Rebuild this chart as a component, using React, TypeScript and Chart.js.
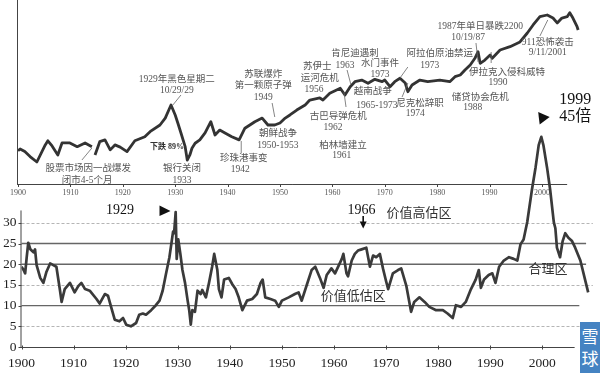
import React, { useEffect, useRef } from "react";
import { Chart, registerables } from "chart.js";
Chart.register(...registerables);

// ---------- data ----------
const decadeTicks = [1900, 1910, 1920, 1930, 1940, 1950, 1960, 1970, 1980, 1990, 2000];
const peTicks = [0, 5, 10, 15, 20, 25, 30];

// Stock index (log scale)
const indexYears = [
  1900.0, 1900.4, 1901.3, 1902.3, 1903.6, 1905.2, 1905.7, 1906.5, 1907.6, 1908.4,
  1909.9, 1911.3, 1912.8, 1914.1, 1914.3, 1914.7, 1915.6, 1916.6, 1917.6, 1918.5,
  1919.5, 1920.8, 1922.3, 1924.2, 1925.2, 1927.1, 1928.1, 1929.2, 1930.0, 1930.5,
  1931.1, 1931.9, 1932.3, 1932.8, 1933.2, 1933.8, 1934.7, 1935.7, 1936.8, 1937.6,
  1938.5, 1939.5, 1940.8, 1942.2, 1943.3, 1945.2, 1946.6, 1947.7, 1949.0, 1950.0,
  1951.0, 1951.9, 1953.2, 1954.8, 1955.7, 1957.6, 1958.2, 1959.5, 1961.5, 1962.4,
  1963.4, 1964.3, 1965.6, 1966.8, 1968.1, 1969.5, 1970.0, 1971.0, 1971.9, 1972.9,
  1973.9, 1974.4, 1975.2, 1976.7, 1978.2, 1980.5, 1982.4, 1983.4, 1984.4, 1985.3,
  1986.3, 1987.2, 1987.8, 1988.2, 1989.1, 1990.1, 1990.5, 1992.0, 1993.9, 1995.8,
  1997.2, 1998.3, 1999.6, 2001.0, 2002.1, 2002.9, 2003.8, 2004.8, 2005.3, 2005.9,
  2006.7, 2006.9,
];
const indexValues = [
  59, 63, 57, 47, 38, 74, 87, 71, 50, 80,
  80, 69, 80, 69, null, 50, 84, 90, 61, 74,
  68, 57, 87, 102, 124, 161, 211, 352, 238, 174,
  118, 69, 41, 50, 65, 79, 90, 118, 183, 109,
  132, 118, 102, 90, 142, 183, 211, 161, 161, 174,
  211, 238, 289, 352, 427, 462, 427, 555, 674, 519,
  718, 873, 931, 820, 958, 873, 931, 718, 873, 996,
  829, 590, 767, 931, 873, 931, 873, 1060, 1132, 1377,
  1675, 2174, 2812, 1790, 2032, 2473, 2174, 3006, 3420, 4110,
  5834, 7980, 11020, 11780, 10470, 8630, 10470, 11020, 12880, 10470,
  7460, 6560,
];

// Price / earnings ratio
const peYears = [
  1900.0, 1900.4, 1900.7, 1901.0, 1901.3, 1901.7, 1902.3, 1902.6, 1902.9, 1903.6,
  1904.2, 1904.8, 1905.5, 1906.1, 1906.7, 1907.4, 1907.7, 1908.3, 1909.3, 1910.2,
  1910.9, 1911.5, 1912.2, 1913.1, 1914.4, 1915.0, 1916.0, 1916.6, 1917.2, 1917.9,
  1918.8, 1919.5, 1920.1, 1921.0, 1922.0, 1922.6, 1923.3, 1923.9, 1924.9, 1925.8,
  1926.5, 1927.1, 1927.7, 1928.4, 1928.8, 1929.1, 1929.3, 1929.6, 1929.8, 1930.1,
  1930.5, 1930.9, 1931.4, 1931.9, 1932.2, 1932.5, 1932.8, 1933.3, 1933.8, 1934.4,
  1934.7, 1935.4, 1936.0, 1936.6, 1937.0, 1937.6, 1937.9, 1938.4, 1938.9, 1939.8,
  1940.5, 1941.1, 1941.7, 1942.4, 1943.3, 1944.3, 1945.2, 1945.9, 1946.3, 1946.8,
  1947.8, 1948.7, 1949.4, 1950.0, 1951.3, 1952.5, 1953.2, 1953.8, 1954.8, 1955.7,
  1956.4, 1957.3, 1958.0, 1958.6, 1959.5, 1960.2, 1961.5, 1961.8, 1962.4, 1962.7,
  1963.4, 1964.0, 1964.6, 1965.3, 1966.2, 1966.9, 1967.5, 1968.1, 1968.8, 1969.4,
  1970.0, 1970.4, 1971.3, 1972.3, 1972.9, 1973.9, 1974.8, 1975.4, 1976.4, 1977.4,
  1978.3, 1979.6, 1980.9, 1981.8, 1982.8, 1983.4, 1984.4, 1985.3, 1986.3, 1987.2,
  1987.8, 1988.2, 1988.8, 1989.7, 1990.4, 1991.0, 1991.7, 1992.6, 1993.6, 1994.5,
  1995.2, 1995.8, 1996.4, 1997.1, 1998.0, 1998.7, 1999.3, 1999.8, 2000.2, 2000.9,
  2001.5, 2002.2, 2002.5, 2002.8, 2003.4, 2003.9, 2004.4, 2005.0, 2005.7, 2006.3,
  2007.3, 2008.2, 2008.8,
];
const peValues = [
  19.4, 18.6, 17.8, 21.7, 25.2, 23.6, 22.9, 23.6, 19.8, 16.7,
  15.5, 18.2, 20.2, 19.8, 19.4, 13.6, 10.9, 14.0, 15.5, 13.2,
  14.7, 15.5, 14.0, 13.6, 11.6, 10.5, 12.8, 12.4, 9.7, 6.6,
  6.2, 7.0, 5.4, 5.0, 5.8, 7.8, 8.1, 7.8, 8.9, 10.1,
  11.2, 13.6, 17.4, 21.7, 25.2, 27.9, 27.5, 32.6, 21.3, 26.0,
  22.5, 18.6, 15.5, 11.2, 8.9, 5.4, 8.9, 8.5, 13.6, 12.8,
  13.8, 12.0, 15.5, 19.4, 22.5, 18.6, 14.0, 12.0, 16.3, 16.7,
  15.1, 14.0, 12.0, 8.9, 11.2, 11.6, 12.8, 15.5, 16.3, 12.0,
  11.6, 11.2, 9.7, 11.2, 12.0, 12.8, 13.2, 11.2, 15.1, 18.6,
  19.4, 16.7, 14.3, 17.4, 19.0, 17.8, 21.3, 22.5, 17.8, 17.1,
  20.9, 22.5, 23.3, 23.6, 24.0, 19.4, 22.1, 21.7, 22.5, 19.0,
  15.9, 14.0, 17.8, 18.6, 19.0, 14.7, 8.5, 10.9, 12.0, 10.9,
  9.7, 8.9, 8.9, 8.1, 7.0, 10.1, 9.7, 10.9, 14.0, 16.3,
  18.6, 14.3, 16.3, 17.4, 17.8, 15.5, 19.4, 20.9, 21.7, 21.3,
  20.9, 24.8, 26.0, 30.2, 38.0, 43.4, 48.8, 50.8, 48.8, 43.4,
  38.0, 30.2, 28.7, 24.0, 21.7, 25.6, 27.5, 26.4, 25.6, 24.0,
  20.9, 16.3, 13.2,
];

// ---------- annotation layout ----------
const SERIF = '"Liberation Serif", "DejaVu Serif", serif';
const MIX = '"Liberation Serif", "Noto Sans CJK SC", serif';

type Note = { t: string; yr: number; y: number; size?: number; bold?: boolean; align?: CanvasTextAlign; color?: string };
const topNotes: Note[] = [
  { t: "1929年黑色星期二", yr: 1930.3, y: 79 },
  { t: "10/29/29", yr: 1930.3, y: 90 },
  { t: "苏联爆炸", yr: 1946.8, y: 74 },
  { t: "第一颗原子弹", yr: 1946.8, y: 85 },
  { t: "1949", yr: 1946.8, y: 97 },
  { t: "朝鲜战争", yr: 1949.6, y: 133 },
  { t: "1950-1953", yr: 1949.6, y: 145 },
  { t: "珍珠港事变", yr: 1943.1, y: 158 },
  { t: "1942", yr: 1942.4, y: 169 },
  { t: "银行关闭", yr: 1931.3, y: 168 },
  { t: "1933", yr: 1931.3, y: 180 },
  { t: "下跌 89%", yr: 1925.2, y: 147, size: 8, bold: true, align: "left", color: "#333" },
  { t: "股票市场因一战爆发", yr: 1913.4, y: 168 },
  { t: "闭市4-5个月", yr: 1913.2, y: 180 },
  { t: "苏伊士", yr: 1957.1, y: 66 },
  { t: "运河危机", yr: 1957.6, y: 78 },
  { t: "1956", yr: 1956.5, y: 89 },
  { t: "肯尼迪遇刺", yr: 1964.3, y: 53 },
  { t: "1963", yr: 1962.4, y: 65 },
  { t: "水门事件", yr: 1969.1, y: 63 },
  { t: "1973", yr: 1969.1, y: 74 },
  { t: "越南战争", yr: 1967.7, y: 91 },
  { t: "1965-1973", yr: 1968.5, y: 105 },
  { t: "古巴导弹危机", yr: 1961.1, y: 116 },
  { t: "1962", yr: 1960.1, y: 127 },
  { t: "柏林墙建立", yr: 1962.0, y: 145 },
  { t: "1961", yr: 1961.8, y: 155 },
  { t: "阿拉伯原油禁运", yr: 1980.5, y: 53 },
  { t: "1973", yr: 1978.6, y: 65 },
  { t: "尼克松辞职", yr: 1976.7, y: 103 },
  { t: "1974", yr: 1975.8, y: 113 },
  { t: "储贷协会危机", yr: 1988.2, y: 97 },
  { t: "1988", yr: 1986.8, y: 107 },
  { t: "1987年单日暴跌2200", yr: 1988.2, y: 26 },
  { t: "10/19/87", yr: 1985.9, y: 37 },
  { t: "伊拉克入侵科威特", yr: 1993.3, y: 72 },
  { t: "1990", yr: 1991.6, y: 82 },
  { t: "911恐怖袭击", yr: 2001.1, y: 42 },
  { t: "9/11/2001", yr: 2001.1, y: 52 },
];
const topLeaders: number[][] = [
  [1931.1, 95, 1929.4, 106],
  [1948.5, 103, 1949.0, 117],
  [1942.6, 153, 1942.6, 141],
  [1912.2, 160, 1914.1, 148],
  [1962.8, 70, 1963.5, 84],
  [1962.6, 107, 1962.2, 92],
  [1974.4, 67, 1972.9, 78],
  [1973.3, 97, 1974.4, 83],
  [1987.4, 43, 1987.8, 62],
  [1990.3, 52, 1990.3, 63],
  [1999.6, 36, 2001.1, 20],
];
const bottomNotes: Note[] = [
  { t: "1929", yr: 1918.9, y: 210, size: 14, color: "#111" },
  { t: "1966", yr: 1965.3, y: 210, size: 14, color: "#111" },
  { t: "价值高估区", yr: 1976.3, y: 214, size: 13, color: "#333" },
  { t: "价值低估区", yr: 1963.7, y: 297, size: 13, color: "#333" },
  { t: "合理区", yr: 2001.1, y: 270, size: 13, color: "#333" },
  { t: "1999", yr: 2006.3, y: 100, size: 16, color: "#111" },
  { t: "45倍", yr: 2006.3, y: 117, size: 16, color: "#111" },
];

function drawNote(ctx: CanvasRenderingContext2D, xs: any, n: Note, defSize: number, defColor: string) {
  const size = n.size ?? defSize;
  ctx.font = `${n.bold ? "bold " : ""}${size}px ${MIX}`;
  ctx.fillStyle = n.color ?? defColor;
  ctx.textAlign = n.align ?? "center";
  ctx.textBaseline = "middle";
  ctx.fillText(n.t, xs.getPixelForValue(n.yr), n.y);
}

function xScaleOpts(size: number, color: string, pad: number, height: number) {
  return {
    type: "linear" as const,
    min: 1900,
    max: 2011.07,
    bounds: "data" as const,
    grid: { display: false, drawTicks: false },
    border: { display: false },
    ticks: {
      autoSkip: false,
      maxRotation: 0,
      minRotation: 0,
      padding: pad,
      color,
      font: { family: SERIF, size },
      callback: (v: any) => String(v),
    },
    afterBuildTicks: (s: any) => {
      s.ticks = decadeTicks.map((v) => ({ value: v }));
    },
    afterFit: (s: any) => {
      s.height = height;
    },
  };
}

export default function App() {
  const topRef = useRef<HTMLCanvasElement>(null);
  const botRef = useRef<HTMLCanvasElement>(null);

  useEffect(() => {
    const topPlugin = {
      id: "topDecor",
      beforeDatasetsDraw(chart: any) {
        const { ctx, chartArea, scales } = chart;
        const xs = scales.x;
        ctx.save();
        ctx.strokeStyle = "#444";
        ctx.lineWidth = 1;
        ctx.beginPath();
        ctx.moveTo(chartArea.left - 0.5, 0);
        ctx.lineTo(chartArea.left - 0.5, chartArea.bottom + 0.5);
        ctx.moveTo(chartArea.left - 1, chartArea.bottom + 0.5);
        ctx.lineTo(xs.getPixelForValue(2004.8), chartArea.bottom + 0.5);
        for (const d of decadeTicks) {
          const px = Math.round(xs.getPixelForValue(d)) + 0.5;
          ctx.moveTo(px, chartArea.bottom);
          ctx.lineTo(px, chartArea.bottom + 3);
        }
        ctx.stroke();
        ctx.restore();
      },
      afterDatasetsDraw(chart: any) {
        const { ctx, scales } = chart;
        const xs = scales.x;
        ctx.save();
        ctx.strokeStyle = "#666";
        ctx.lineWidth = 0.8;
        ctx.beginPath();
        for (const [a, b, c, d] of topLeaders) {
          ctx.moveTo(xs.getPixelForValue(a), b);
          ctx.lineTo(xs.getPixelForValue(c), d);
        }
        ctx.stroke();
        for (const n of topNotes) drawNote(ctx, xs, n, 9.5, "#555");
        ctx.restore();
      },
    };

    const botPlugin = {
      id: "botDecor",
      beforeDatasetsDraw(chart: any) {
        const { ctx, chartArea, scales } = chart;
        const xs = scales.x;
        const ys = scales.y;
        const L = chartArea.left;
        ctx.save();
        ctx.strokeStyle = "#b5b5b5";
        ctx.lineWidth = 1;
        ctx.setLineDash([3, 2]);
        ctx.beginPath();
        for (const v of [5, 15, 30]) {
          const py = Math.round(ys.getPixelForValue(v)) + 0.5;
          ctx.moveTo(L, py);
          ctx.lineTo(xs.getPixelForValue(2009.7), py);
        }
        ctx.stroke();
        ctx.setLineDash([]);
        ctx.strokeStyle = "#666";
        ctx.lineWidth = 1.4;
        ctx.beginPath();
        const solids: [number, number][] = [[10, 2007.1], [20, 2008.4], [25, 2008.4]];
        for (const [v, end] of solids) {
          const py = ys.getPixelForValue(v);
          ctx.moveTo(L, py);
          ctx.lineTo(xs.getPixelForValue(end), py);
        }
        ctx.stroke();
        ctx.strokeStyle = "#444";
        ctx.lineWidth = 1;
        ctx.beginPath();
        const by = Math.round(ys.getPixelForValue(0)) + 0.5;
        ctx.moveTo(L - 0.5, ys.getPixelForValue(33));
        ctx.lineTo(L - 0.5, by);
        ctx.moveTo(L - 1, by);
        ctx.lineTo(xs.getPixelForValue(2006.2), by);
        for (const d of decadeTicks) {
          const px = Math.round(xs.getPixelForValue(d)) + 0.5;
          ctx.moveTo(px, by - 2);
          ctx.lineTo(px, by + 2);
        }
        for (const v of peTicks) {
          const py = Math.round(ys.getPixelForValue(v)) + 0.5;
          ctx.moveTo(L - 3, py);
          ctx.lineTo(L, py);
        }
        ctx.stroke();
        ctx.restore();
      },
      afterDatasetsDraw(chart: any) {
        const { ctx, scales } = chart;
        const xs = scales.x;
        ctx.save();
        for (const n of bottomNotes) drawNote(ctx, xs, n, 13, "#333");
        ctx.fillStyle = "#111";
        let px = xs.getPixelForValue(1926.5);
        ctx.beginPath();
        ctx.moveTo(px, 205.5);
        ctx.lineTo(px, 216);
        ctx.lineTo(px + 11, 211);
        ctx.closePath();
        ctx.fill();
        px = xs.getPixelForValue(1999.2);
        ctx.beginPath();
        ctx.moveTo(px, 112);
        ctx.lineTo(px + 1.5, 124.5);
        ctx.lineTo(px + 11.5, 117);
        ctx.closePath();
        ctx.fill();
        px = xs.getPixelForValue(1965.6);
        ctx.strokeStyle = "#111";
        ctx.lineWidth = 1.6;
        ctx.beginPath();
        ctx.moveTo(px, 216);
        ctx.lineTo(px, 223);
        ctx.stroke();
        ctx.beginPath();
        ctx.moveTo(px - 3.5, 221.5);
        ctx.lineTo(px + 3.5, 221.5);
        ctx.lineTo(px, 228.5);
        ctx.closePath();
        ctx.fill();
        ctx.restore();
      },
    };

    const top = new Chart(topRef.current!, {
      type: "line",
      data: {
        datasets: [
          {
            data: indexYears.map((yr, i) => ({ x: yr, y: indexValues[i] as any })),
            borderColor: "#333",
            borderWidth: 2.8,
            pointRadius: 0,
            tension: 0,
            spanGaps: false,
            borderJoinStyle: "round",
          },
        ],
      },
      options: {
        animation: false,
        responsive: false,
        devicePixelRatio: 1,
        layout: { padding: 0, autoPadding: false } as any,
        plugins: { legend: { display: false }, tooltip: { enabled: false } },
        events: [],
        scales: {
          x: xScaleOpts(8, "#555", 4, 16) as any,
          y: {
            type: "logarithmic",
            min: 16.1,
            max: 21150,
            bounds: "data",
            grid: { display: false, drawTicks: false },
            border: { display: false },
            ticks: { display: false },
            afterFit: (s: any) => {
              s.width = 18;
            },
          } as any,
        },
      },
      plugins: [topPlugin as any],
    });

    const bot = new Chart(botRef.current!, {
      type: "line",
      data: {
        datasets: [
          {
            data: peYears.map((yr, i) => ({ x: yr, y: peValues[i] })),
            borderColor: "#3a3a3a",
            borderWidth: 2.7,
            pointRadius: 0,
            tension: 0,
            borderJoinStyle: "round",
          },
        ],
      },
      options: {
        animation: false,
        responsive: false,
        devicePixelRatio: 1,
        layout: { padding: 0, autoPadding: false } as any,
        plugins: { legend: { display: false }, tooltip: { enabled: false } },
        events: [],
        scales: {
          x: xScaleOpts(13.5, "#222", 8, 26) as any,
          y: {
            type: "linear",
            min: 0,
            max: 80.7,
            bounds: "data",
            grid: { display: false, drawTicks: false },
            border: { display: false },
            ticks: {
              padding: 5,
              color: "#222",
              font: { family: SERIF, size: 13.5 },
              callback: (v: any) => String(v),
            },
            afterBuildTicks: (s: any) => {
              s.ticks = peTicks.map((v) => ({ value: v }));
            },
            afterFit: (s: any) => {
              s.width = 18;
            },
          } as any,
        },
      },
      plugins: [botPlugin as any],
    });

    return () => {
      top.destroy();
      bot.destroy();
    };
  }, []);

  return (
    <div
      style={{
        position: "fixed",
        left: 0,
        top: 0,
        width: 600,
        height: 373,
        background: "#fff",
        overflow: "hidden",
      }}
    >
      <canvas ref={topRef} width={600} height={200} style={{ position: "absolute", left: 0, top: 0 }} />
      <canvas ref={botRef} width={600} height={373} style={{ position: "absolute", left: 0, top: 0 }} />
      <div
        style={{
          position: "absolute",
          left: 580,
          top: 322,
          width: 20,
          height: 51,
          background: "#4583c2",
          color: "#fff",
          fontFamily: '"Noto Sans CJK SC", sans-serif',
          fontSize: 17,
          lineHeight: "22px",
          textAlign: "center",
          paddingTop: 3,
          boxSizing: "border-box",
          overflow: "hidden",
        }}
      >
        雪<br />球
      </div>
    </div>
  );
}
